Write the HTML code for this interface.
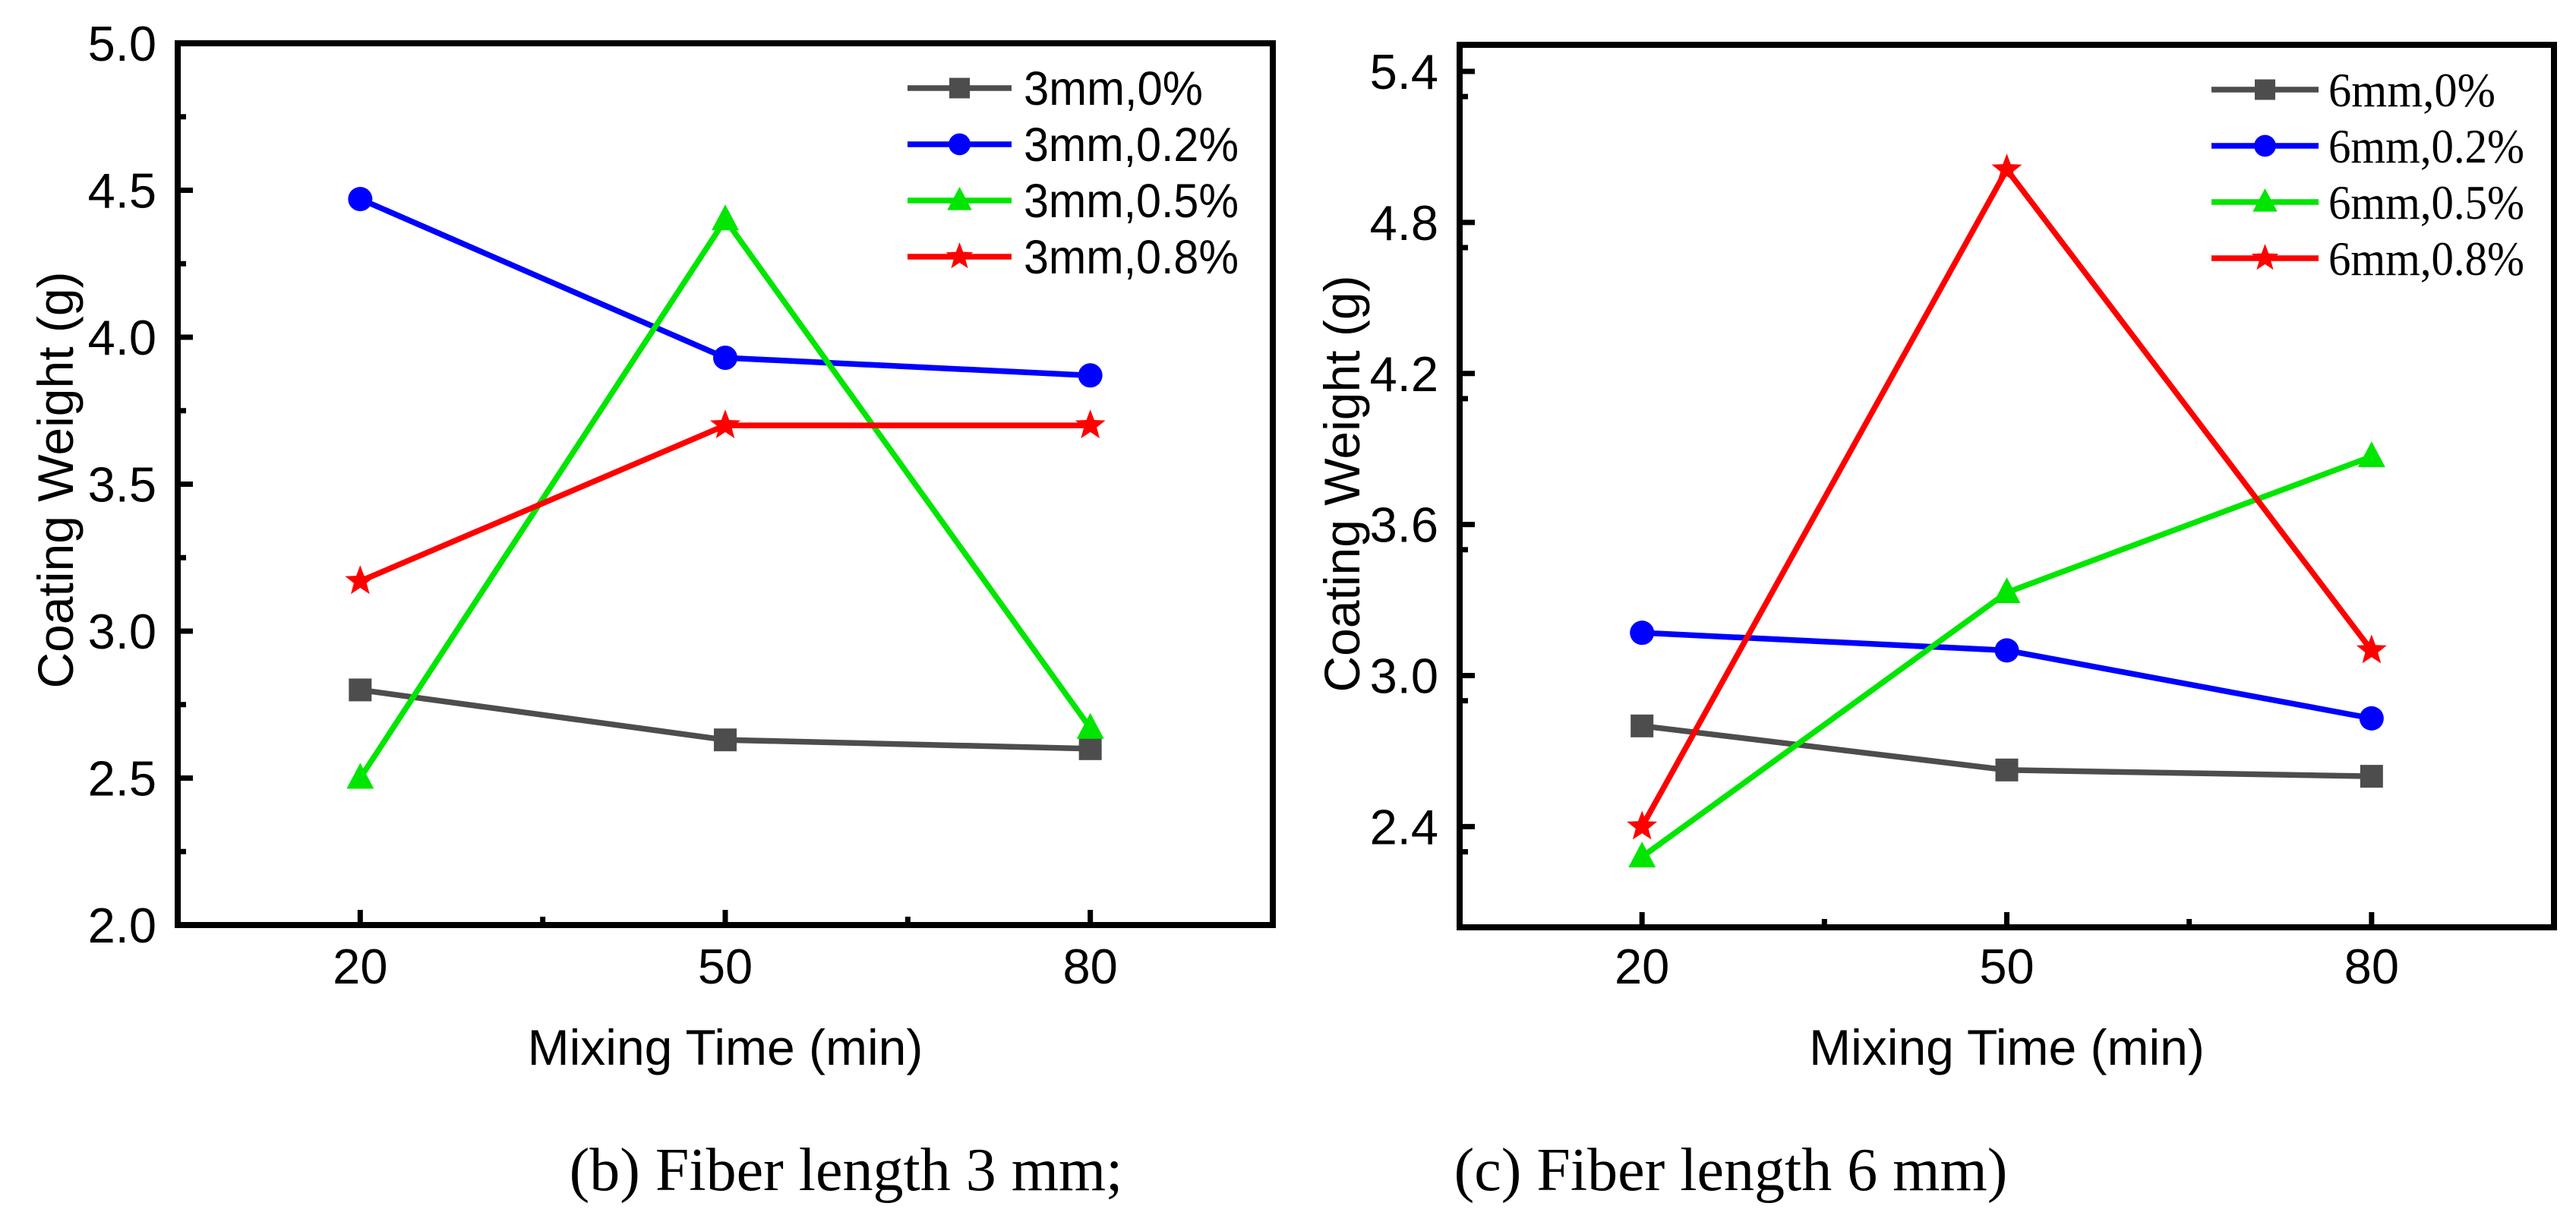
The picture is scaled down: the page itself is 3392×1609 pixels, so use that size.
<!DOCTYPE html>
<html><head><meta charset="utf-8"><style>
html,body{margin:0;padding:0;background:#fff;}
svg{display:block;}
</style></head><body>
<svg id="fig" width="3392" height="1609" viewBox="0 0 3392 1609" xmlns="http://www.w3.org/2000/svg">
<rect x="0" y="0" width="3392" height="1609" fill="#fff"/>
<text x="1114" y="1567" font-family="Liberation Serif, serif" font-size="80" text-anchor="middle">(b) Fiber length 3 mm;</text>
<text x="2279" y="1567" font-family="Liberation Serif, serif" font-size="80" text-anchor="middle">(c) Fiber length 6 mm)</text>
</svg>
<script>
// Shared x categories
const xCats = [20, 50, 80];
const xTickLabels = ["20", "50", "80"];
// Chart (b) 3 mm
const bNames = ["3mm,0%", "3mm,0.2%", "3mm,0.5%", "3mm,0.8%"];
const b0 = [2.80, 2.63, 2.60];
const b02 = [4.47, 3.93, 3.87];
const b05 = [2.50, 4.40, 2.67];
const b08 = [3.17, 3.70, 3.70];
const bYTicks = [2.0, 2.5, 3.0, 3.5, 4.0, 4.5, 5.0];
const bYTickLabels = ["2.0", "2.5", "3.0", "3.5", "4.0", "4.5", "5.0"];
// Chart (c) 6 mm
const cNames = ["6mm,0%", "6mm,0.2%", "6mm,0.5%", "6mm,0.8%"];
const c0 = [2.80, 2.625, 2.60];
const c02 = [3.17, 3.10, 2.83];
const c05 = [2.28, 3.33, 3.87];
const c08 = [2.40, 5.01, 3.10];
const cYTicks = [2.4, 3.0, 3.6, 4.2, 4.8, 5.4];
const cYTickLabels = ["2.4", "3.0", "3.6", "4.2", "4.8", "5.4"];

const NS = "http://www.w3.org/2000/svg";
const svg = document.getElementById("fig");
const colors = ["#4d4d4d", "#0000ff", "#00e600", "#ff0000"];
const markers = ["square", "circle", "triangle", "star"];

function mk(tag, attrs, parent) {
  const e = document.createElementNS(NS, tag);
  for (const k in attrs) e.setAttribute(k, attrs[k]);
  (parent || svg).appendChild(e);
  return e;
}
function starPts(cx, cy, R) {
  const r = R * 0.42; let p = [];
  for (let i = 0; i < 10; i++) {
    const a = -Math.PI / 2 + i * Math.PI / 5, rr = i % 2 ? r : R;
    p.push((cx + rr * Math.cos(a)).toFixed(1) + "," + (cy + rr * Math.sin(a)).toFixed(1));
  }
  return p.join(" ");
}
function marker(g, type, cx, cy, color, s) {
  let m;
  if (type === "square") m = mk("rect", {x: cx - 15*s, y: cy - 15*s, width: 30*s, height: 30*s, fill: color}, g);
  else if (type === "circle") m = mk("circle", {cx: cx, cy: cy, r: 16*s, fill: color}, g);
  else if (type === "triangle") m = mk("polygon", {points: `${cx},${cy-20*s} ${cx+18*s},${cy+14*s} ${cx-18*s},${cy+14*s}`, fill: color}, g);
  else m = mk("polygon", {points: starPts(cx, cy, 21*s), fill: color}, g);
  return m;
}

function drawChart(o) {
  const g = mk("g", {});
  
  
  const L = o.L, R = o.R, T = o.T, B = o.B;
  const xs = v => L + (v - 5) / 90 * (R - L);
  const ys = v => B - (v - o.ymin) / (o.ymax - o.ymin) * (B - T);
  o.series.forEach((vals, si) => {
    const sg = mk("g", {}, g);
    
    
    const pts = vals.map((v, i) => xs(xCats[i]) + "," + ys(v)).join(" ");
    const pl = mk("polyline", {points: pts, fill: "none", stroke: colors[si], "stroke-width": 7.5, "stroke-linejoin": "round"}, sg);
    
    
    vals.forEach((v, i) => {
      const m = marker(sg, markers[si], xs(xCats[i]), ys(v), colors[si], 1);
      
      
    });
  });
  const fr = mk("rect", {x: L, y: T, width: R - L, height: B - T, fill: "none", stroke: "#000", "stroke-width": 8}, g);
  
  
  o.yTicks.forEach((v, i) => {
    const y = ys(v);
    const t = mk("line", {x1: L, x2: L + 20, y1: y, y2: y, stroke: "#000", "stroke-width": 7}, g);
    
    
    const lb = mk("text", {x: L - 28, y: y + 23, "font-family": "Liberation Sans, sans-serif", "font-size": 65, "text-anchor": "end"}, g);
    lb.textContent = o.yTickLabels[i];
    
    
  });
  for (let v = o.ymin + o.minorStep; v < o.ymax; v += o.minorStep * 2) {
    const y = ys(v);
    const t = mk("line", {x1: L, x2: L + 11, y1: y, y2: y, stroke: "#000", "stroke-width": 7}, g);
    
    
  }
  xCats.forEach((v, i) => {
    const x = xs(v);
    const t = mk("line", {x1: x, x2: x, y1: B, y2: B - 20, stroke: "#000", "stroke-width": 7}, g);
    
    
    const lb = mk("text", {x: x, y: 1295, "font-family": "Liberation Sans, sans-serif", "font-size": 65, "text-anchor": "middle"}, g);
    lb.textContent = xTickLabels[i];
    
    
  });
  [35, 65].forEach(v => {
    const x = xs(v);
    const t = mk("line", {x1: x, x2: x, y1: B, y2: B - 11, stroke: "#000", "stroke-width": 7}, g);
    
    
  });
  const xt = mk("text", {x: (L + R) / 2, y: 1402, "font-family": "Liberation Sans, sans-serif", "font-size": 66, "text-anchor": "middle"}, g);
  xt.textContent = "Mixing Time (min)";
  
  
  const yt = mk("text", {x: 0, y: 0, "font-family": "Liberation Sans, sans-serif", "font-size": 66, "text-anchor": "middle", transform: `translate(${o.ytX},${o.ytY}) rotate(-90)`}, g);
  yt.textContent = "Coating Weight (g)";
  
  
  const lg = mk("g", {}, g);
  
  
  o.names.forEach((n, i) => {
    const y = o.legY[i];
    const e = mk("g", {}, lg);
    
    
    mk("line", {x1: o.legX1, x2: o.legX2, y1: y, y2: y, stroke: colors[i], "stroke-width": 7.5}, e);
    marker(e, markers[i], (o.legX1 + o.legX2) / 2, y, colors[i], 0.9);
    const tx = mk("text", {x: o.legTX, y: y + 22, "font-family": o.legFont, "font-size": 63, textLength: o.legW[i], lengthAdjust: "spacingAndGlyphs"}, e);
    tx.textContent = n;
  });
}

drawChart({name: "chart-3mm", L: 234, R: 1676, T: 57, B: 1218, ymin: 2.0, ymax: 5.0, minorStep: 0.25,
  yTicks: bYTicks, yTickLabels: bYTickLabels, names: bNames, series: [b0, b02, b05, b08],
  ytX: 96, ytY: 632, legX1: 1195, legX2: 1332, legTX: 1348, legY: [116, 190, 264, 338],
  legFont: "Liberation Sans, sans-serif", legW: [236, 283, 283, 283]});
drawChart({name: "chart-6mm", L: 1922, R: 3363, T: 59, B: 1221, ymin: 2.0, ymax: 5.4 + 35/199*0.6, minorStep: 0.3,
  yTicks: cYTicks, yTickLabels: cYTickLabels, names: cNames, series: [c0, c02, c05, c08],
  ytX: 1790, ytY: 637, legX1: 2912, legX2: 3053, legTX: 3066, legY: [118, 192, 266, 340],
  legFont: "Liberation Serif, serif", legW: [220, 258, 258, 258]});
</script>
</body></html>
